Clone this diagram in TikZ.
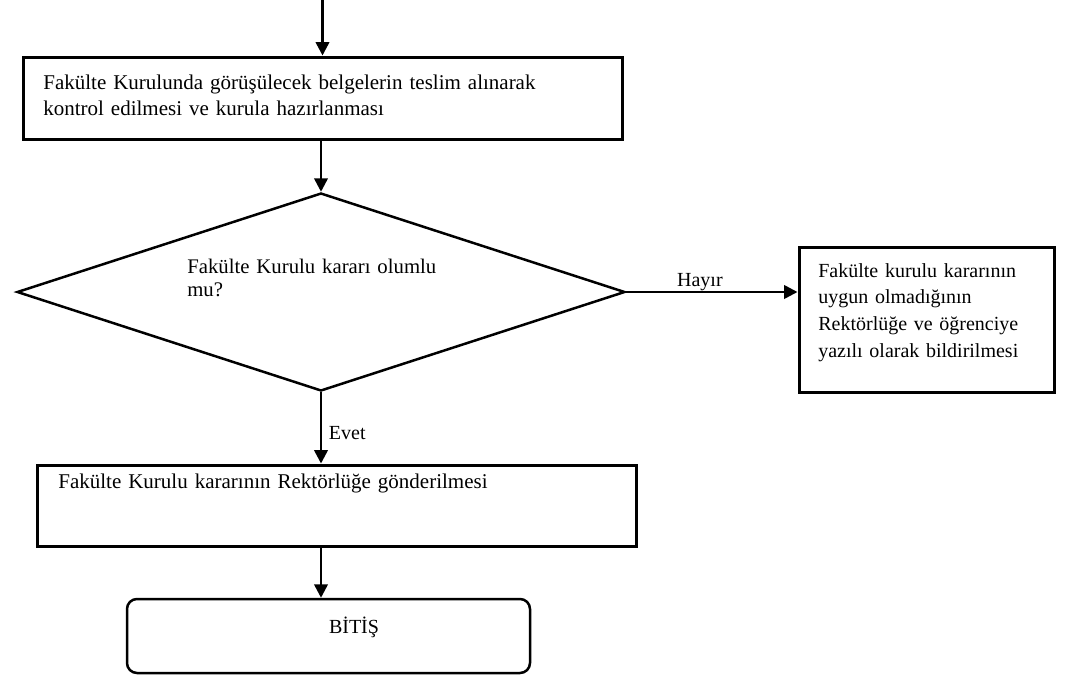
\documentclass[tikz,border=0pt]{standalone}
\usepackage{fontspec}
\setmainfont{Liberation Serif}
\usetikzlibrary{positioning,
	shapes.geometric,
	arrows.meta}

\tikzset{
	kutu/.style={draw, line width=1.8pt, inner sep=0pt},
	yazi/.style={inner sep=0pt, anchor=base west, align=left, font=\fontsize{12.6}{15.6}\selectfont},
	etiket/.style={inner sep=0pt, font=\fontsize{12}{14}\selectfont},
	ok/.style={line width=1.5pt, -{Triangle[length=8pt, width=8pt]}}
}

\begin{document}
\begin{tikzpicture}[x=0.6pt, y=-0.6pt]
	\useasboundingbox (0, 0) rectangle (1072, 677);
	\coordinate (giris) at (322.5, 0);
	% kutular
	\node[kutu, minimum width=359.4pt, minimum height=49.2pt] (kutu1) at (322.5, 98) {};
	\node[kutu, diamond, line width=1.5pt, minimum width=364.8pt, minimum height=118.8pt] (karar) at (321, 292) {};
	\node[kutu, minimum width=153pt, minimum height=87pt] (ret) at (926.5, 319.5) {};
	\node[kutu, minimum width=359.4pt, minimum height=48.6pt] (kutu3) at (336.5, 505.5) {};
	\node[kutu, line width=1.5pt, rounded corners=6pt, minimum width=241.8pt, minimum height=44.4pt] (bitis) at (328.5, 636) {};
	% yazilar
	\node[yazi, text width=340pt] (kutu1yazi) at (43, 89) {Fakülte Kurulunda görüşülecek belgelerin teslim alınarak\\kontrol edilmesi ve kurula hazırlanması};
	\node[yazi, text width=150pt, font=\fontsize{12.45}{13.8}\selectfont] (kararyazi) at (187, 273) {Fakülte Kurulu kararı olumlu\\mu?};
	\node[yazi, text width=135pt, font=\fontsize{12}{16}\selectfont] (retyazi) at (818, 277) {Fakülte kurulu kararının\\uygun olmadığının\\Rektörlüğe ve öğrenciye\\yazılı olarak bildirilmesi};
	\node[yazi, text width=340pt] (kutu3yazi) at (58, 488) {Fakülte Kurulu kararının Rektörlüğe gönderilmesi};
	\node[etiket, anchor=base] (bitisyazi) at (354, 633) {BİTİŞ};
	% oklar
	\draw[ok] (giris) -- (kutu1.north);
	\draw[ok] (karar.north |- kutu1.south) -- (karar.north);
	\draw[ok] (karar.east) -- (karar.east -| ret.west) node[etiket, pos=0.43, above] (hayir) {Hayır};
	\draw[ok] (karar.south) -- (karar.south |- kutu3.north) node[etiket, pos=0.57, right, xshift=4pt] (evet) {Evet};
	\draw[ok] (kutu3.south -| karar.south) -- (bitis.north -| karar.south);
\end{tikzpicture}
\end{document}
